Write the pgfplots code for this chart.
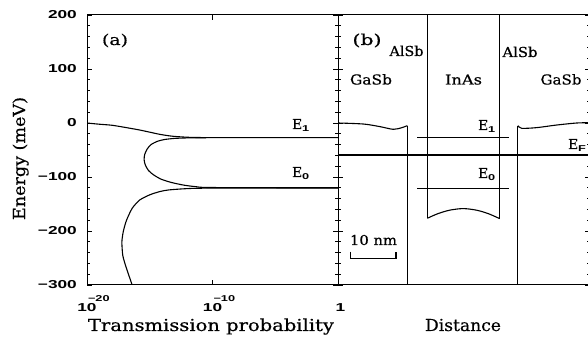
\documentclass[border=0pt]{standalone}
\usepackage{graphicx}
\usepackage{pgfplots}
\pgfplotsset{compat=1.18}
\usepackage{fontspec}
\setmainfont{DejaVu Serif}[FakeBold=0.5]
\newfontfamily\tickfont{Liberation Sans Bold}[FakeStretch=1.5]
\newcommand{\tf}{\tickfont\fontsize{11.5}{13}\selectfont}
\newcommand{\fitw}[2]{\resizebox{#1}{\height}{#2}}
\newcommand{\lf}{\fontsize{16.5}{19}\selectfont}
\newcommand{\pf}{\fontsize{13.7}{16}\selectfont}
\newcommand{\sub}[1]{\raisebox{-0.3ex}{\tickfont\fontsize{8.5}{10}\selectfont #1}}
\newcommand{\xt}[1]{\makebox[0pt]{10}\makebox[0pt][l]{\hspace{1pt}\raisebox{10pt}{\fontsize{8.5}{10}\selectfont −#1}}}

\pgfplotstableread{
x y
-20 0
-19.5 -1.2
-19 -2.3
-18 -4.2
-16.85 -8.6
-15.8 -13
-14.9 -17.5
-14.2 -21
-13.5 -23.6
-13 -24.9
-12 -26.4
-11 -26.9
-10 -27.1
0 -27.2
}\curveA

\pgfplotstableread{
x y
-10.5 -27.3
-12 -27.6
-13 -28.5
-13.8 -30.5
-14.4 -34
-14.9 -40
-15.2 -48
-15.4 -58
-15.45 -68
-15.35 -78
-15.1 -88
-14.7 -96
-14.1 -104
-13.3 -110
-12.3 -115
-11.3 -118
-10 -119.5
0 -120
}\curveB

\pgfplotstableread{
x y
0 -120.5
-10 -120.6
-12 -121.5
-13.5 -124
-14.2 -127
-15 -133
-15.8 -142.6
-16.4 -158
-16.85 -180
-17.1 -200
-17.22 -220
-17.15 -245
-16.9 -266
-16.4 -300
}\curveC

\begin{document}
\begin{tikzpicture}
\useasboundingbox (0pt,0pt) rectangle (588pt,342pt);
\pgfplotsset{
  common/.style={scale only axis, height=270pt, ymin=-300, ymax=200,
    ytick={-300,-200,...,200}, minor y tick num=4, tick align=inside,
    major tick length=5pt, minor tick length=3pt,
    axis line style={line width=1pt},
    every tick/.style={line width=0.8pt, black},
  },
}
\begin{axis}[common, at={(87pt,57pt)}, anchor=south west, width=251pt,
  xmin=-20, xmax=0, xtick={-20,-10,0},
  xticklabels={\xt{20},\xt{10},\makebox[0pt]{\hspace{5pt}1}},
  yticklabels={−300,−200,−100,0,100,200},
  yticklabel style={font=\tf, anchor=east, inner sep=0pt, xshift=-10pt},
  xticklabel style={font=\tf, anchor=base, inner sep=0pt, yshift=-27pt},
]
\addplot[black, line width=1.1pt, smooth, tension=0.4] table {\curveA};
\addplot[black, line width=1.1pt, smooth, tension=0.4] table {\curveB};
\addplot[black, line width=1.1pt, smooth, tension=0.4] table {\curveC};
\end{axis}

\begin{axis}[common, at={(338pt,57pt)}, anchor=south west, width=252pt,
  xmin=0, xmax=55.6, xtick=\empty, yticklabels={},
]
% left GaSb valence band edge
\addplot[black, line width=1.1pt, smooth, tension=0.5] coordinates {
 (0,0) (5.6,-1.9) (9.3,-6.8) (12.2,-11.7) (14.1,-8.6) (15.3,-4.9)};
\addplot[black, line width=1.1pt] coordinates {(15.3,-4.9) (15.3,-300)};
% right GaSb
\addplot[black, line width=1.1pt] coordinates {(39.7,-300) (39.7,-4.9)};
\addplot[black, line width=1.1pt, smooth, tension=0.5] coordinates {
 (39.7,-4.9) (40.5,-9.8) (43.8,-8.6) (48.3,-3.7) (52.7,0) (55.6,0.5)};
% InAs well
\addplot[black, line width=1.1pt] coordinates {(19.7,200) (19.7,-176.5)};
\addplot[black, line width=1.1pt] coordinates {(35.65,200) (35.65,-177)};
\addplot[black, line width=1.1pt, smooth, tension=0.5] coordinates {
 (19.7,-176.5) (22,-168) (24.6,-161.5) (27.6,-158.5) (30.6,-161.5) (33.2,-168) (35.65,-177)};
% levels
\addplot[black, line width=1.1pt] coordinates {(17.5,-27.2) (37.8,-27.2)};
\addplot[black, line width=1.1pt] coordinates {(17.5,-120.9) (37.8,-120.9)};
\addplot[black, line width=1.1pt] coordinates {(0,-59.3) (55.6,-59.3)};
% scale bar
\addplot[black, line width=1.1pt] coordinates {(2.8,-238) (2.8,-250.5) (12.8,-250.5) (12.8,-238)};
\end{axis}

\tikzset{lab/.style={anchor=base, inner sep=0pt}}
\fontsize{15}{17}\selectfont
\node[lab] at (115pt,297pt) {\fitw{26pt}{(a)}};
\node[lab] at (367pt,297pt) {\fitw{29pt}{(b)}};
\pf
\node[lab] at (406.5pt,286pt) {\fitw{34pt}{AlSb}};
\node[lab] at (520pt,285pt) {\fitw{35pt}{AlSb}};
\node[lab] at (371pt,257.5pt) {\fitw{42pt}{GaSb}};
\node[lab] at (463.5pt,257.5pt) {\fitw{37pt}{InAs}};
\node[lab] at (561pt,257.5pt) {\fitw{41pt}{GaSb}};
\node[anchor=base west, inner sep=0pt] at (292pt,213pt) {E\sub{1}};
\node[anchor=base west, inner sep=0pt] at (292pt,165pt) {E\sub{0}};
\node[anchor=base west, inner sep=0pt] at (478pt,212pt) {E\sub{1}};
\node[anchor=base west, inner sep=0pt] at (478pt,164pt) {E\sub{0}};
\node[anchor=base west, inner sep=0pt] at (568pt,193pt) {E\sub{F}};
\node[lab] at (373.5pt,97pt) {\fitw{47pt}{10 nm}};
\lf
\node[lab] at (211pt,11pt) {\fitw{246pt}{Transmission probability}};
\node[lab] at (463pt,11pt) {\fitw{76pt}{Distance}};
\node[lab, rotate=90] at (25pt,183.5pt) {\fitw{123pt}{Energy (meV)}};
\end{tikzpicture}
\end{document}
